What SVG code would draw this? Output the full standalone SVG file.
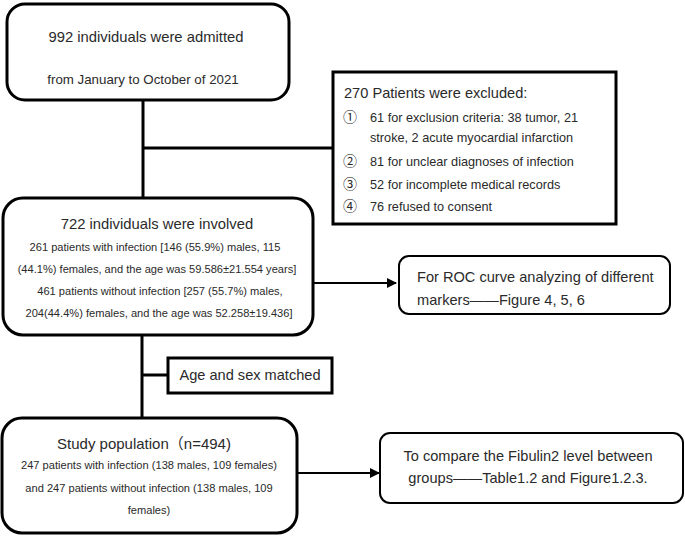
<svg xmlns="http://www.w3.org/2000/svg" width="685" height="536" viewBox="0 0 685 536">
<defs>
<style>
text{font-family:"Liberation Sans","Noto Sans CJK SC",sans-serif;fill:#2a2a2a}
.box{fill:#fff;stroke:#000;stroke-width:3}
.thin{fill:#fff;stroke:#000;stroke-width:2}
.ln{fill:none;stroke:#000;stroke-width:3}
.ln2{fill:none;stroke:#000;stroke-width:2}
.c{text-anchor:middle}
.t{font-size:14.8px}
.sm{font-size:11.1px}
.ex{font-size:12.7px}
.num{font-size:14px}
.md{font-size:14.6px}
</style>
<marker id="arr" viewBox="0 0 10 10" refX="9" refY="5" markerWidth="5" markerHeight="5" orient="auto" markerUnits="strokeWidth">
<path d="M0,0 L10,5 L0,10 z" fill="#000"/>
</marker>
</defs>
<g id="connectors">
<line class="ln" x1="143" y1="100" x2="143" y2="198"/>
<line class="ln" x1="143" y1="148" x2="333" y2="148"/>
<line class="ln2" x1="313" y1="283" x2="396" y2="283" marker-end="url(#arr)"/>
<line class="ln" x1="142" y1="335" x2="142" y2="418"/>
<line class="ln" x1="142" y1="375" x2="168" y2="375"/>
<line class="ln2" x1="297" y1="473" x2="379" y2="473" marker-end="url(#arr)"/>
</g>
<g id="admitted">
<rect class="box" x="7" y="4" width="282" height="96" rx="18"/>
<text class="c t" x="146" y="42">992 individuals were admitted</text>
<text class="c" x="143" y="84" style="font-size:13.3px">from January to October of 2021</text>
</g>
<g id="excluded">
<rect class="box" x="333" y="72" width="283" height="152"/>
<text x="344" y="98" style="font-size:14.6px">270 Patients were excluded:</text>
<text x="343" y="122" class="num">①</text><text x="370" y="122" class="ex">61 for exclusion criteria: 38 tumor, 21</text>
<text x="370" y="142" class="ex">stroke, 2 acute myocardial infarction</text>
<text x="343" y="166" class="num">②</text><text x="370" y="166" class="ex">81 for unclear diagnoses of infection</text>
<text x="343" y="189" class="num">③</text><text x="370" y="189" class="ex">52 for incomplete medical records</text>
<text x="343" y="211" class="num">④</text><text x="370" y="211" class="ex">76 refused to consent</text>
</g>
<g id="involved">
<rect class="box" x="3" y="198" width="310" height="137" rx="20"/>
<text class="c t" x="157" y="229">722 individuals were involved</text>
<text class="c sm" x="155" y="251">261 patients with infection [146 (55.9%) males, 115</text>
<text class="c sm" x="157" y="273">(44.1%) females, and the age was 59.586±21.554 years]</text>
<text class="c sm" x="160" y="295">461 patients without infection [257 (55.7%) males,</text>
<text class="c sm" x="159" y="317">204(44.4%) females, and the age was 52.258±19.436]</text>
</g>
<g id="roc">
<rect class="thin" x="399" y="256" width="271" height="58" rx="10"/>
<text x="417" y="282" class="md">For ROC curve analyzing of different</text>
<text x="417" y="305" class="md">markers——Figure 4, 5, 6</text>
</g>
<g id="matched">
<rect class="box" x="168" y="358" width="164" height="35"/>
<text class="c" x="250" y="380" style="font-size:14.6px">Age and sex matched</text>
</g>
<g id="study">
<rect class="box" x="2" y="418" width="295" height="115" rx="20"/>
<text class="c" x="144" y="449" style="font-size:15px">Study population（n=494)</text>
<text class="c sm" x="149" y="469">247 patients with infection (138 males, 109 females)</text>
<text class="c sm" x="149" y="492">and 247 patients without infection (138 males, 109</text>
<text class="c sm" x="149" y="514">females)</text>
</g>
<g id="compare">
<rect class="thin" x="380" y="433" width="303" height="70" rx="10"/>
<text class="c md" x="528" y="461">To compare the Fibulin2 level between</text>
<text class="c md" x="528" y="483">groups——Table1.2 and Figure1.2.3.</text>
</g>
</svg>
